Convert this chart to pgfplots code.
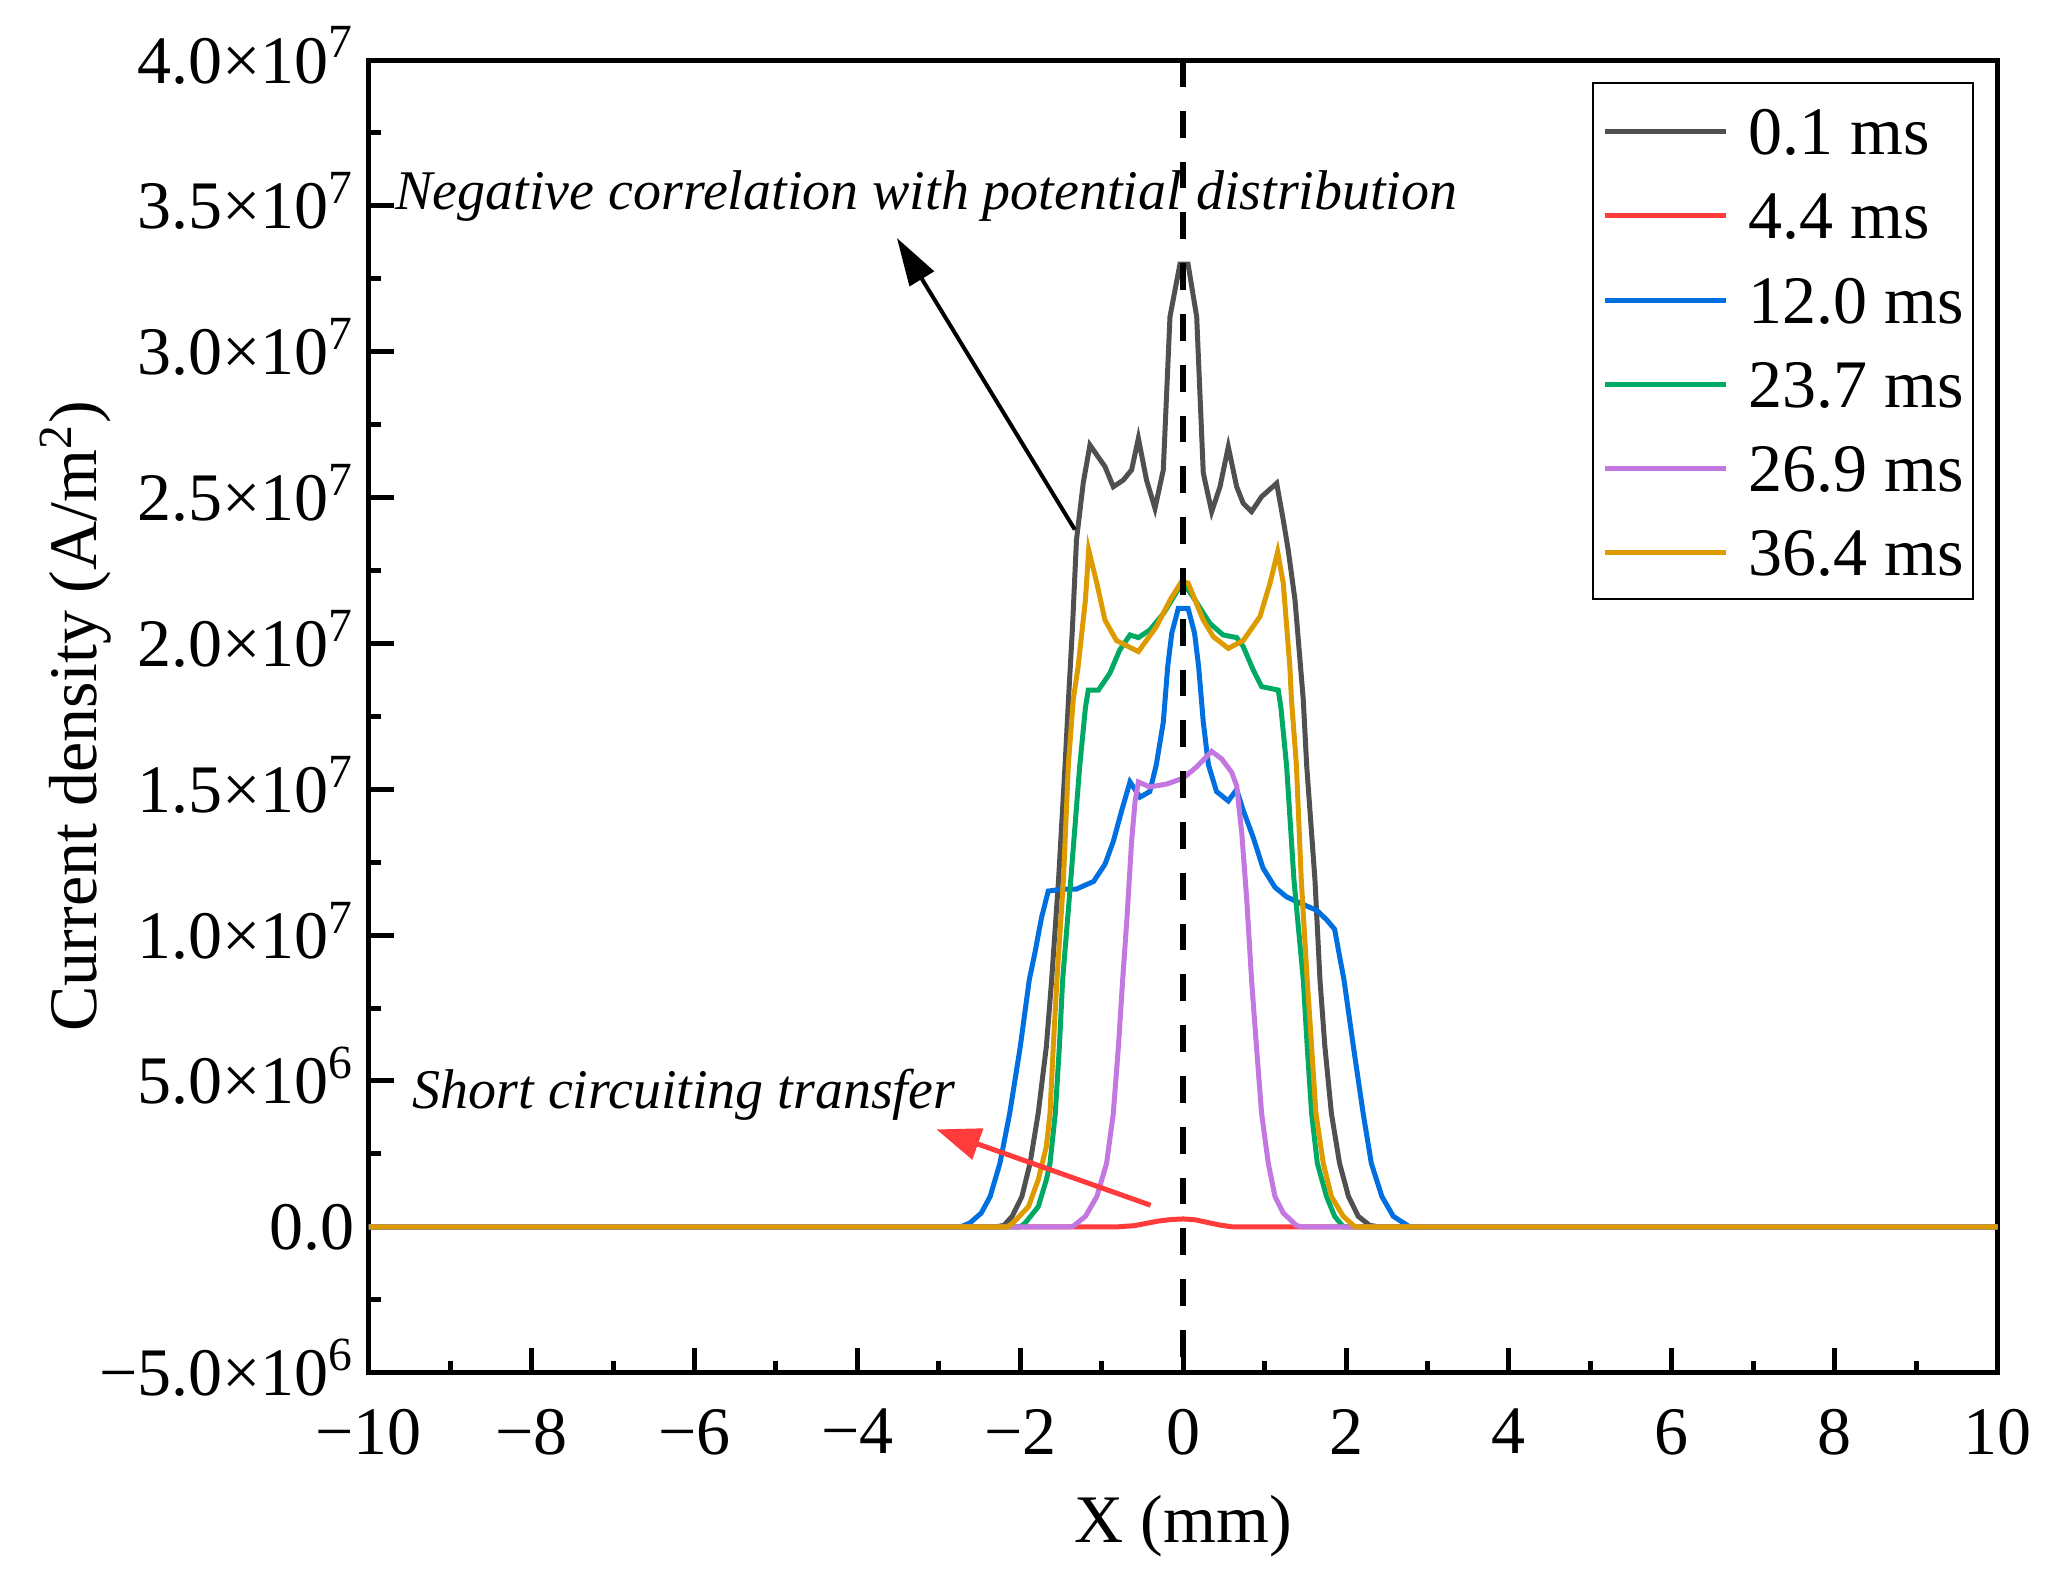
\documentclass[border=0pt]{standalone}
\usepackage{fontspec}
\setmainfont{Liberation Serif}
\usepackage{pgfplots}
\pgfplotsset{compat=1.18}
\usetikzlibrary{arrows.meta}
\definecolor{cGray}{RGB}{80,80,80}
\definecolor{cRed}{RGB}{255,59,59}
\definecolor{cBlue}{RGB}{0,112,224}
\definecolor{cGreen}{RGB}{0,170,100}
\definecolor{cPurple}{RGB}{194,120,224}
\definecolor{cOrange}{RGB}{221,155,0}
\begin{document}
\begin{tikzpicture}
\useasboundingbox (-92.2pt,-51.05pt) rectangle (420.35pt,343.2pt);
\begin{axis}[
  at={(0pt,0pt)}, anchor=south west,
  scale only axis, width=407.25pt, height=328.2pt,
  xmin=-10, xmax=10, ymin=-5, ymax=40,
  xtick={-10,-8,...,10},
  xticklabels={−10,−8,−6,−4,−2,0,2,4,6,8,10},
  ytick={-5,0,5,10,15,20,25,30,35,40},
  yticklabels={−5.0×10\textsuperscript{6},0.0,5.0×10\textsuperscript{6},1.0×10\textsuperscript{7},1.5×10\textsuperscript{7},2.0×10\textsuperscript{7},2.5×10\textsuperscript{7},3.0×10\textsuperscript{7},3.5×10\textsuperscript{7},4.0×10\textsuperscript{7}},
  minor x tick num=1, minor y tick num=1,
  tick pos=left, tick align=inside,
  major tick length=6.25pt, minor tick length=3pt,
  tick style={black, line width=1.25pt},
  axis line style={line width=1.25pt},
  tick label style={font=\fontsize{17}{20}\selectfont},
  xticklabel style={yshift=-5.6pt},
  yticklabel style={text height=11.5pt, text depth=0pt},
  label style={font=\fontsize{17}{20}\selectfont},
  xlabel={X (mm)},
  ylabel={Current density (A/m\textsuperscript{2})},
  xlabel style={at={(axis description cs:0.5,0)}, anchor=base, yshift=-42.55pt},
  ylabel style={at={(axis description cs:-0.18,0.5)}, anchor=center},
  legend style={
    at={(1,1)}, anchor=north east, xshift=-5.9pt, yshift=-5.6pt,
    draw=black, line width=0.45pt,
    inner xsep=2.35pt, inner ysep=5.85pt,
    row sep=9.05pt,
    font=\fontsize{17}{20}\selectfont,
    nodes={inner sep=0pt, text height=12pt, text depth=0pt, anchor=base west},
    /tikz/every odd column/.append style={column sep=5pt},
  },
  legend cell align=left,
  legend image code/.code={\draw[#1, line width=1.25pt] (0pt,5.75pt) -- (30.25pt,5.75pt);},
  clip=false,
]
% 0.1 ms
\addplot[cGray, line width=1.25pt] coordinates {
(-10,0) (-2.3,0) (-2.2,0.05) (-2.1,0.36) (-1.98,1.04) (-1.88,2.18) (-1.78,3.89) (-1.68,6.18) (-1.615,8.46) (-1.53,11.9) (-1.45,15.84) (-1.40,18.5) (-1.36,20.5) (-1.31,23.55) (-1.227,25.5) (-1.145,26.8) (-0.96,26.06) (-0.858,25.37) (-0.735,25.6) (-0.633,25.95) (-0.55,27.03) (-0.45,25.6) (-0.346,24.63) (-0.244,25.95) (-0.162,31.2) (-0.04,33.0) (0.06,33.0) (0.166,31.2) (0.247,25.84) (0.35,24.52) (0.452,25.37) (0.554,26.74) (0.657,25.37) (0.738,24.8) (0.84,24.52) (0.963,25.03) (1.148,25.49) (1.229,24.23) (1.29,23.2) (1.373,21.49) (1.475,18.06) (1.516,15.84) (1.618,11.9) (1.68,8.46) (1.74,6.18) (1.82,3.89) (1.92,2.18) (2.03,1.04) (2.15,0.36) (2.29,0.05) (2.4,0) (10,0)
};
\addlegendentry{0.1 ms}
% 4.4 ms
\addplot[cRed, line width=1.25pt] coordinates {
(-10,0) (-0.8,0) (-0.6,0.04) (-0.45,0.12) (-0.3,0.2) (-0.15,0.25) (0,0.27) (0.15,0.24) (0.3,0.15) (0.45,0.06) (0.6,0) (10,0)
};
\addlegendentry{4.4 ms}
% 12.0 ms
\addplot[cBlue, line width=1.25pt] coordinates {
(-10,0) (-2.73,0) (-2.62,0.13) (-2.48,0.47) (-2.37,1.04) (-2.25,2.18) (-2.13,3.89) (-2.0,6.18) (-1.89,8.46) (-1.82,9.4) (-1.74,10.59) (-1.657,11.51) (-1.47,11.58) (-1.31,11.58) (-1.1,11.84) (-0.96,12.43) (-0.858,13.21) (-0.755,14.27) (-0.653,15.25) (-0.53,14.73) (-0.41,14.92) (-0.33,15.84) (-0.244,17.3) (-0.19,19.2) (-0.14,20.35) (-0.06,21.2) (0.06,21.2) (0.14,20.35) (0.19,19.2) (0.247,17.3) (0.31,15.84) (0.41,14.92) (0.554,14.6) (0.657,14.99) (0.738,14.27) (0.86,13.35) (0.98,12.3) (1.127,11.64) (1.27,11.31) (1.475,11.05) (1.64,10.85) (1.76,10.53) (1.86,10.2) (1.92,9.28) (1.975,8.46) (2.09,6.18) (2.21,3.89) (2.31,2.18) (2.44,1.04) (2.58,0.36) (2.78,0) (10,0)
};
\addlegendentry{12.0 ms}
% 23.7 ms
\addplot[cGreen, line width=1.25pt] coordinates {
(-10,0) (-2.0,0) (-1.94,0.13) (-1.78,0.69) (-1.68,1.61) (-1.635,2.18) (-1.57,3.89) (-1.52,6.18) (-1.48,8.46) (-1.38,11.9) (-1.27,15.8) (-1.2,17.8) (-1.165,18.4) (-1.04,18.4) (-0.9,18.98) (-0.78,19.77) (-0.653,20.29) (-0.55,20.2) (-0.41,20.46) (-0.24,21.03) (-0.04,21.95) (0.02,22.0) (0.12,21.6) (0.327,20.69) (0.49,20.29) (0.657,20.2) (0.738,19.89) (0.86,19.09) (0.963,18.52) (1.167,18.4) (1.2,17.8) (1.27,15.8) (1.36,11.9) (1.475,8.46) (1.523,6.18) (1.577,3.89) (1.647,2.18) (1.76,1.04) (1.86,0.36) (1.966,0) (10,0)
};
\addlegendentry{23.7 ms}
% 26.9 ms
\addplot[cPurple, line width=1.25pt] coordinates {
(-10,0) (-1.4,0) (-1.35,0.02) (-1.2,0.36) (-1.06,1.04) (-0.94,2.18) (-0.858,3.89) (-0.795,6.18) (-0.743,8.46) (-0.69,10.59) (-0.633,13.23) (-0.59,14.6) (-0.55,15.25) (-0.41,15.08) (-0.2,15.18) (0.0,15.38) (0.166,15.77) (0.35,16.3) (0.473,16.04) (0.596,15.58) (0.657,15.12) (0.72,13.48) (0.78,11.25) (0.84,8.46) (0.90,6.18) (0.963,3.89) (1.045,2.18) (1.127,1.04) (1.23,0.47) (1.39,0.05) (1.45,0) (10,0)
};
\addlegendentry{26.9 ms}
% 36.4 ms
\addplot[cOrange, line width=1.25pt] coordinates {
(-10,0) (-2.16,0) (-2.09,0.13) (-1.9,0.69) (-1.78,1.61) (-1.68,2.75) (-1.635,3.89) (-1.595,6.18) (-1.55,8.46) (-1.47,11.9) (-1.41,15.84) (-1.35,18.06) (-1.29,19.2) (-1.2,21.5) (-1.16,23.2) (-1.06,22.06) (-0.96,20.8) (-0.82,20.1) (-0.55,19.72) (-0.33,20.57) (-0.16,21.49) (-0.02,22.12) (0.06,22.07) (0.247,20.8) (0.37,20.23) (0.554,19.83) (0.738,20.1) (0.943,20.92) (1.066,22.06) (1.16,23.14) (1.229,22.06) (1.31,19.2) (1.33,18.06) (1.39,15.84) (1.45,11.9) (1.523,8.46) (1.577,6.18) (1.63,3.89) (1.72,2.18) (1.82,1.04) (1.966,0.36) (2.11,0) (10,0)
};
\addlegendentry{36.4 ms}
% centre line
\addplot[black, line width=1.5pt, dash pattern=on 6.7pt off 6pt, forget plot] coordinates {(0,40) (0,-5)};
% annotations
\draw[black, line width=1pt, -{Triangle[length=12pt, width=7pt]}] (axis cs:-1.33,23.9) -- (axis cs:-3.515,33.9);
\draw[cRed, line width=1.25pt, -{Triangle[length=11pt, width=8pt]}] (axis cs:-0.40,0.74) -- (axis cs:-3.03,3.34);
\node[anchor=base west, inner sep=0pt, font=\itshape\fontsize{14}{16}\selectfont] at (axis cs:-9.68,34.86) {Negative correlation with potential distribution};
\node[anchor=base west, inner sep=0pt, font=\itshape\fontsize{14}{16}\selectfont] at (axis cs:-9.47,4.04) {Short circuiting transfer};
\end{axis}
\end{tikzpicture}
\end{document}
